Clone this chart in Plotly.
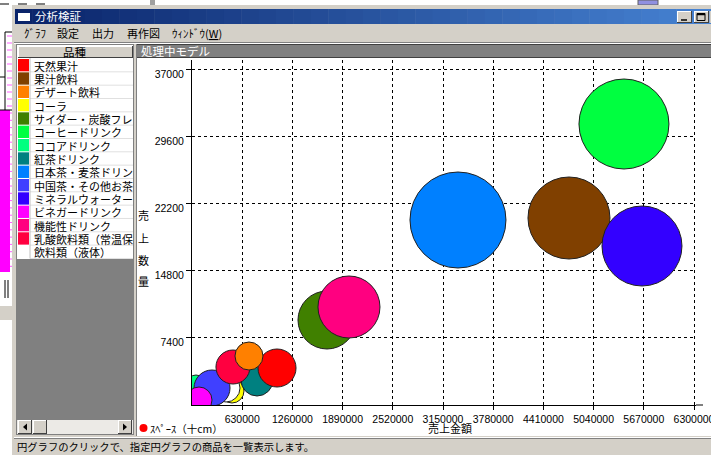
import plotly.graph_objects as go

W, H = 711, 455

# ---------------- data ----------------
categories = ["天然果汁", "果汁飲料", "デザート飲料", "コーラ", "サイダー・炭酸フレ",
              "コーヒードリンク", "ココアドリンク", "紅茶ドリンク", "日本茶・麦茶ドリン",
              "中国茶・その他お茶", "ミネラルウォーター", "ビネガードリンク", "機能性ドリンク",
              "乳酸飲料類（常温保", "飲料類（液体）"]
colors = ["#FF0000", "#804000", "#FF8000", "#FFFF00", "#408000",
          "#00FF40", "#00FF80", "#008080", "#0080FF",
          "#4040FF", "#3300FF", "#FF00FF", "#FF0080",
          "#FF0040", "#FFFFFF"]
sales = [1067000, 4731000, 715000, 502000, 1694000,
         5421000, 50000, 816000, 3338000,
         251000, 5647000, 88000, 1970000,
         514000, 427000]
quantity = [4074, 20592, 5396, 1542, 9360,
            30943, 2313, 2753, 20372,
            1872, 17509, 551, 10792,
            4185, 1872]
space = [19, 41, 14, 12, 29,
         45, 9, 16, 48,
         18, 40, 13, 31,
         17, 14]
draw_order = [6, 3, 14, 9, 11, 7, 13, 0, 2, 4, 12, 1, 10, 5, 8]

x_ticks = [630000, 1260000, 1890000, 2520000, 3150000, 3780000, 4410000, 5040000, 5670000, 6300000]
x_tick_labels = ["630000", "1260000", "1890000", "2520000", "3150000", "3780000", "4410000", "5040000", "5670000", "6300000"]
y_ticks = [7400, 14800, 22200, 29600, 37000]
y_tick_labels = ["7400", "14800", "22200", "29600", "37000"]

JP = "Noto Sans CJK JP"
NUM = "Liberation Sans"
WINGRAY = "#D4D0C8"

# plot area in pixels
PL, PR, PT, PB = 192, 696, 60, 405


def X(p):
    return p / W


def Y(p):
    return 1 - p / H


shapes = []
annos = []


def rect(x0, y0, x1, y1, fill, line=None, lw=0, layer="below"):
    shapes.append(dict(type="rect", xref="paper", yref="paper",
                       x0=X(x0), x1=X(x1), y0=Y(y1), y1=Y(y0),
                       fillcolor=fill, line=dict(width=lw, color=line or fill), layer=layer))


def hline(x0, x1, y, color, lw=1, dash=None, layer="below"):
    d = dict(width=lw, color=color)
    if dash:
        d["dash"] = dash
    shapes.append(dict(type="line", xref="paper", yref="paper", x0=X(x0), x1=X(x1),
                       y0=Y(y), y1=Y(y), line=d, layer=layer))


def vline(x, y0, y1, color, lw=1, layer="below"):
    shapes.append(dict(type="line", xref="paper", yref="paper", x0=X(x), x1=X(x),
                       y0=Y(y0), y1=Y(y1), line=dict(width=lw, color=color), layer=layer))


def text(x, y, s, size=11, color="black", xanchor="left", family=JP):
    annos.append(dict(x=X(x), y=Y(y), xref="paper", yref="paper", text=s, showarrow=False,
                      xanchor=xanchor, yanchor="middle",
                      font=dict(family=family, size=size, color=color)))


def button3d(x0, y0, x1, y1):
    rect(x0, y0, x1, y1, WINGRAY)
    hline(x0, x1, y0 + 0.5, "#FFFFFF")
    vline(x0 + 0.5, y0, y1, "#FFFFFF")
    hline(x0, x1, y1 - 0.5, "#404040")
    vline(x1 - 0.5, y0, y1, "#404040")


# ---------- background desktop / other window ----------
rect(0, 0, W, H, "#FFFFFF")
hline(0, 45, 4, "#000000", 1, dash="dash")
rect(150, 0, 155, 5, "#A0A0A0")
rect(638, 0, 658, 5, "#9090E0", "#606060", 1)
# left strip of a window behind
vline(5, 32, 110, "#000000")
hline(5, 13, 32, "#000000")
for k in range(11):
    hline(7, 13, 36 + k * 7, "#FF60FF")
hline(0, 5, 77, "#000000")
rect(0, 110, 10, 272, "#FF00FF")
for k in range(22):
    hline(10, 13, 113 + k * 7.3, "#FF60FF")
hline(0, 13, 110, "#000000")
vline(5, 280, 298, "#000000")
vline(8, 280, 298, "#000000")
rect(0, 306, 13, 320, WINGRAY)

# ---------- main window ----------
rect(12, 5, W, H, WINGRAY)
# title bar gradient
steps = 40
c0 = (10, 36, 106)
c1 = (70, 130, 210)
tx0, tx1 = 15, W
for k in range(steps):
    t = k / (steps - 1)
    c = tuple(int(c0[j] + (c1[j] - c0[j]) * t) for j in range(3))
    xa = tx0 + (tx1 - tx0) * k / steps
    xb = tx0 + (tx1 - tx0) * (k + 1) / steps + 0.5
    rect(xa, 9, xb, 24, "rgb(%d,%d,%d)" % c)
# title icon
rect(18, 11, 30, 21, "#FFFFFF", "#FFFFFF", 0)
rect(18, 11, 30, 13, "#0A246A")
text(33, 16.5, "分析検証", 11.5, "#FFFFFF")
# caption buttons
button3d(677, 11, 692, 23)
hline(681, 687, 20, "#000000", 1.5)
button3d(694, 11, 709, 23)
rect(697, 13.5, 705, 20.5, "rgba(0,0,0,0)", "#000000", 1)
hline(697, 705, 14.5, "#000000", 1.5)
rect(709.5, 11, W, 23, WINGRAY)

# menu
text(22, 33, "ｸﾞﾗﾌ", 11)
text(55, 33, "設定", 11)
text(90, 33, "出力", 11)
text(125, 33, "再作図", 11)
text(170, 33, "ｳｨﾝﾄﾞｳ(<u>W</u>)", 11)
hline(14, W, 42.5, "#808080")
hline(14, W, 43.5, "#FFFFFF")

# left panel (legend list)
rect(16, 44, 134, 435, "#808080")
rect(17, 45, 133, 434, "#FFFFFF")
button3d(18, 46, 133, 58)
text(75, 52, "品種", 11.5, xanchor="center")
row_top = 58.5
row_h = 13.33
for i, (name, col) in enumerate(zip(categories, colors)):
    y0 = row_top + i * row_h
    rect(18, y0 + 0.5, 29, y0 + row_h - 0.5, col)
    hline(30, 133, y0 + row_h, "#E0E0E0")
    text(31.5, y0 + row_h / 2 + 0.5, name, 11)
vline(30, 58, row_top + 15 * row_h, "#C0C0C0")
rect(17, row_top + 15 * row_h + 0.5, 133, 420, "#808080")
# scrollbar
rect(17, 420, 133, 434, "#ECEAE6")
button3d(18, 420, 32, 434)
shapes.append(dict(type="path", xref="paper", yref="paper",
                   path="M %f,%f L %f,%f L %f,%f Z" % (X(23), Y(427), X(27), Y(423.5), X(27), Y(430.5)),
                   fillcolor="#000000", line=dict(width=0), layer="below"))
button3d(33, 420, 47, 434)
button3d(118, 420, 132, 434)
shapes.append(dict(type="path", xref="paper", yref="paper",
                   path="M %f,%f L %f,%f L %f,%f Z" % (X(127), Y(427), X(123), Y(423.5), X(123), Y(430.5)),
                   fillcolor="#000000", line=dict(width=0), layer="below"))

# divider
rect(134, 44, 137, 436, WINGRAY)
vline(136.5, 44, 436, "#808080")

# chart panel
rect(137, 44, W, 57, "#808080")
hline(137, W, 44.5, "#404040")
text(139, 50.5, "処理中モデル", 11.5, "#FFFFFF")
rect(137, 57, W, 436, "#FFFFFF")
hline(137, W, 57.5, "#404040")

# x axis extension beyond last grid
hline(PR, 703, PB, "#000000", 1)

# status bar
rect(12, 436, W, H, WINGRAY)
hline(14, W, 437.5, "#FFFFFF")
hline(14, W, 438.5, "#808080")
text(15, 446.5, "円グラフのクリックで、指定円グラフの商品を一覧表示します。", 10.3)

# chart texts
shapes.append(dict(type="circle", xref="paper", yref="paper",
                   x0=X(139.5), x1=X(147.5), y0=Y(432), y1=Y(424),
                   fillcolor="#FF0000", line=dict(width=0), layer="below"))
text(147.5, 428, "ｽﾍﾟｰｽ（十cm）", 10.5)
text(450, 427.5, "売上金額", 11, xanchor="center")
for ch, yy in zip(["売", "上", "数", "量"], [215, 238, 260, 281]):
    text(143, yy, ch, 11, xanchor="center")

# ---------------- bubbles ----------------
fig = go.Figure()
fig.add_trace(go.Scatter(
    x=[sales[i] for i in draw_order],
    y=[quantity[i] for i in draw_order],
    mode="markers",
    text=[categories[i] for i in draw_order],
    hoverinfo="text+x+y",
    marker=dict(size=[space[i] for i in draw_order], sizemode="diameter", sizeref=0.5,
                color=[colors[i] for i in draw_order], opacity=1,
                line=dict(color="#202020", width=1)),
    showlegend=False,
    cliponaxis=True,
))

x_per_px = 630000 / 50.2
y_per_px = 7400 / 67.2

fig.update_layout(
    width=W, height=H,
    margin=dict(l=0, r=0, t=0, b=0, autoexpand=False),
    paper_bgcolor="#FFFFFF",
    plot_bgcolor="#FFFFFF",
    showlegend=False,
    shapes=shapes,
    annotations=annos,
    xaxis=dict(domain=[X(PL), X(PR)], range=[0, (PR - PL) * x_per_px],
               tickvals=x_ticks, ticktext=x_tick_labels,
               showgrid=True, gridcolor="#000000", gridwidth=1, griddash="3px,3px",
               showline=True, linecolor="#000000", linewidth=1,
               ticks="outside", ticklen=4, tickcolor="#000000",
               zeroline=False, tickfont=dict(family=NUM, size=10.5, color="#000000"),
               ticklabeloverflow="allow", automargin=False,
               fixedrange=True),
    yaxis=dict(domain=[Y(PB), Y(PT)], range=[0, (PB - PT) * y_per_px],
               tickvals=y_ticks, ticktext=y_tick_labels,
               showgrid=True, gridcolor="#000000", gridwidth=1, griddash="3px,3px",
               showline=True, linecolor="#000000", linewidth=1,
               ticks="outside", ticklen=5, tickcolor="#000000",
               zeroline=False, tickfont=dict(family=NUM, size=10.5, color="#000000"),
               ticklabelshift=5, automargin=False,
               fixedrange=True),
)

fig.write_html("out.html", config={"displayModeBar": False})

# remove the default page margin so the figure sits at the window's top-left corner
with open("out.html", encoding="utf-8") as f:
    html = f.read()
html = html.replace("<head>", "<head><style>html,body{margin:0;padding:0;overflow:hidden;}</style>", 1)
with open("out.html", "w", encoding="utf-8") as f:
    f.write(html)
